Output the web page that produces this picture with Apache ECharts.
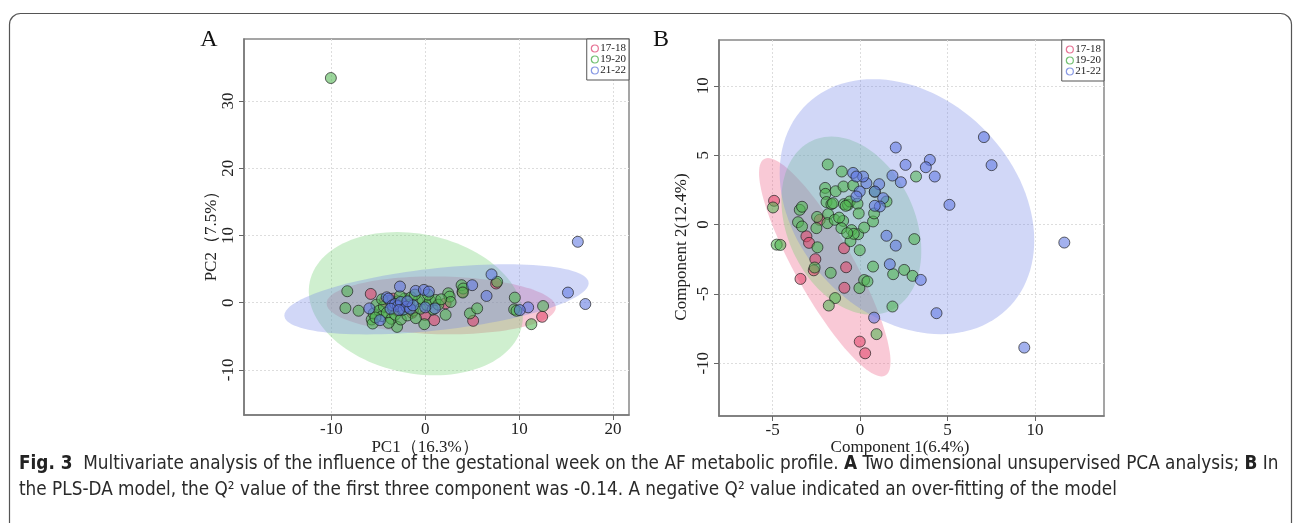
<!DOCTYPE html>
<html><head><meta charset="utf-8">
<script src="https://cdn.jsdelivr.net/npm/echarts@6/dist/echarts.min.js"></script>
<style>html,body{margin:0;padding:0;background:#fff}#c{width:1293px;height:523px}</style>
</head><body><div id="c"></div>
<script>
// ---------- DATA ----------
const groups = ['17-18', '19-20', '21-22'];

// Panel A: PCA scores [PC1, PC2]
const pcaRed = [[-5.8,1.3],[-0.03,-1.83],[0.96,-2.6],[2.17,-0.1],[5.1,-2.7],[7.55,2.85],[12.45,-2.1],[3.97,1.6],[-3.0,-1.2],[-2.0,-0.5],[-4.3,0.2],[-1.4,-1.5],[-3.4,0.6]];
const pcaGreen = [[-10.05,33.4],[-8.3,1.7],[-8.5,-0.8],[-7.1,-1.2],[-5.7,-2.5],[-5.6,-3.1],[-5.5,-1.6],[-3.0,-3.6],[-0.1,-3.2],[2.17,-1.8],[2.45,1.4],[2.6,0.9],[2.7,0.1],[3.87,2.6],[4.05,2.1],[4.0,1.5],[4.76,-1.6],[5.53,-0.85],[7.66,3.1],[9.54,0.75],[9.47,-1.0],[9.72,-1.2],[12.55,-0.5],[11.3,-3.2],
  [-5.2,-0.3],[-4.9,-1.2],[-4.6,-2.0],[-4.4,-0.6],[-4.1,-1.5],[-3.8,0.3],[-3.6,-2.4],[-3.4,-0.9],[-3.2,-1.8],[-2.9,0.2],[-2.6,-2.5],[-2.4,-1.1],[-2.2,0.6],[-1.9,-1.9],[-1.7,-0.3],[-1.5,0.8],[-1.3,-1.2],[-1.0,-2.3],[-0.8,0.2],[-0.5,-0.9],[-0.3,0.5],[0.2,-0.4],[0.5,0.3],[0.8,-1.0],[1.1,0.4],[1.4,-0.3],[1.7,0.5],[-3.9,-3.0],[-5.3,-2.2],[-1.1,1.2],[0.3,1.2],[-2.7,1.0],[-4.6,0.5]];
const pcaBlue = [[16.25,9.05],[15.2,1.5],[17.05,-0.2],[7.06,4.2],[5.0,2.6],[6.53,1.0],[10.96,-0.7],[10.07,-1.1],[-2.69,2.4],[-1.02,1.75],[-0.14,1.9],[0.39,1.65],[1.03,-0.85],[0.0,-0.7],[-4.82,-2.6],[-5.95,-0.85],[-4.1,0.8],
  [-3.9,0.6],[-3.5,-0.4],[-3.2,-0.2],[-2.9,-0.5],[-2.6,0.1],[-2.3,-1.0],[-2.0,-0.6],[-1.6,-0.9],[-1.3,-0.4],[-3.7,-0.9],[-2.8,-1.1],[-1.9,0.2]];

// Panel B: PLS-DA scores [Component 1, Component 2]
const plsRed = [[-4.92,1.71],[-3.07,-0.85],[-2.92,-1.32],[-2.56,-2.5],[-2.65,-3.3],[-3.41,-3.92],[-0.92,-1.71],[-0.8,-3.08],[-0.9,-4.56],[-0.02,-8.44],[0.29,-9.28],[-2.31,0.34]];
const plsGreen = [[-4.98,1.23],[-4.77,-1.45],[-4.56,-1.47],[-3.55,0.17],[-3.32,-0.14],[-3.45,1.06],[-3.32,1.28],[-2.46,0.55],[-2.5,-0.26],[-2.44,-1.64],[-2.6,-3.1],[-1.68,-3.48],[-1.85,4.33],[-2.0,2.64],[-1.98,2.21],[-1.92,1.62],[-1.64,1.47],[-1.83,0.75],[-1.87,0.1],[-1.4,2.4],[-1.45,0.34],[-0.97,0.26],[-1.05,3.82],[-0.95,2.74],[-0.92,1.47],[-0.69,1.42],[-0.59,1.66],[-1.07,-0.26],[-0.49,-0.4],[-0.55,-1.2],[-0.11,-0.7],[-0.15,1.5],[-0.08,0.8],[-0.4,2.81],[-0.02,-1.85],[0.23,-0.22],[0.74,0.22],[0.8,0.8],[0.74,-3.03],[-0.04,-4.58],[0.23,-4.0],[0.42,-4.1],[-1.43,-5.3],[-1.79,-5.84],[0.94,-7.9],[1.89,-3.58],[1.85,-5.91],[2.52,-3.27],[3.0,-3.7],[3.1,-1.05],[3.2,3.46],[1.51,1.66],[0.84,2.36],[-1.55,1.54],[-0.82,1.35],[-0.36,-0.67],[-0.74,-0.62],[-1.2,0.5]];
const plsBlue = [[7.08,6.3],[7.52,4.28],[2.04,5.55],[2.6,4.3],[3.99,4.66],[3.76,4.13],[4.27,3.46],[1.85,3.53],[2.33,3.05],[5.11,1.42],[11.68,-1.3],[9.39,-8.87],[4.37,-6.39],[3.47,-3.99],[1.7,-2.86],[1.51,-0.81],[2.04,-1.52],[0.8,-6.71],[1.09,2.91],[0.84,2.38],[1.32,1.9],[1.13,1.3],[0.84,1.35],[0.36,2.98],[0.17,3.46],[-0.4,3.72],[-0.21,3.46],[-0.02,2.38],[-0.21,2.02]];

// Confidence ellipses: [centerX, centerY, halfWidthX, halfHeightY, xOffsetOfTopPoint]
const pcaEllipseRed = [1.7, -0.4, 12.2, 4.3, -0.85];
const pcaEllipseGreen = [-1.0, -0.15, 11.4, 10.65, -2.0];
const pcaEllipseBlue = [1.2, 0.5, 16.2, 5.22, 7.45];
const plsEllipseRed = [-2.02, -3.08, 3.76, 7.87, -3.25];
const plsEllipseGreen = [-0.5, -0.08, 4.0, 6.42, -1.14];
const plsEllipseBlue = [2.68, 1.29, 7.28, 9.19, -1.93];

const pcaXTicks = [-10, 0, 10, 20];
const pcaYTicks = [-10, 0, 10, 20, 30];
const plsXTicks = [-5, 0, 5, 10];
const plsYTicks = [-10, -5, 0, 5, 10];

// ---------- STYLE ----------
const serif = "'Liberation Serif', 'DejaVu Serif', serif";
const capFont = "'Liberation Sans Narrow', 'DejaVu Sans Condensed', 'Liberation Sans', sans-serif";
const pointColors = ['rgba(226,70,105,0.72)', 'rgba(82,182,82,0.72)', 'rgba(96,120,225,0.72)'];
const fillColors = ['rgba(236,90,130,0.33)', 'rgba(110,205,110,0.33)', 'rgba(115,135,230,0.33)'];
const legendColors = ['#e0507a', '#4fb04f', '#6a80dd'];

function ellipseSeries(params, gridIdx, color) {
  return {
    type: 'custom', xAxisIndex: gridIdx, yAxisIndex: gridIdx, z: 1, silent: true,
    data: [params],
    encode: { x: 0, y: 1 },
    renderItem: function (p, api) {
      const cx = api.value(0), cy = api.value(1), hx = api.value(2), hy = api.value(3), d = api.value(4);
      const e = Math.sqrt(Math.max(hx * hx - d * d, 0));
      const pts = [];
      for (let i = 0; i < 120; i++) {
        const t = i / 120 * Math.PI * 2;
        pts.push(api.coord([cx + d * Math.sin(t) + e * Math.cos(t), cy + hy * Math.sin(t)]));
      }
      return { type: 'polygon', shape: { points: pts }, style: { fill: color, stroke: 'none' } };
    }
  };
}
function scatterSeries(name, data, gridIdx, ci) {
  return {
    type: 'scatter', name: name, xAxisIndex: gridIdx, yAxisIndex: gridIdx, z: 3,
    data: data, symbolSize: 11,
    itemStyle: { color: pointColors[ci], borderColor: 'rgba(30,30,30,0.85)', borderWidth: 1 }
  };
}
function xAxis(gridIdx, min, max, ticks) {
  return {
    type: 'value', gridIndex: gridIdx, min: min, max: max,
    axisLine: { show: true, onZero: false, lineStyle: { color: '#777', width: 1.5 } },
    axisTick: { show: true, length: 5, customValues: ticks, lineStyle: { color: '#666' } },
    axisLabel: { customValues: ticks, margin: 6, color: '#222', fontFamily: serif, fontSize: 17 },
    splitLine: { show: true, lineStyle: { color: '#ddd', type: [2, 2], width: 1 } }
  };
}
function yAxis(gridIdx, min, max, ticks) {
  return {
    type: 'value', gridIndex: gridIdx, min: min, max: max,
    axisLine: { show: true, onZero: false, lineStyle: { color: '#777', width: 1.5 } },
    axisTick: { show: true, length: 5, customValues: ticks, lineStyle: { color: '#666' } },
    axisLabel: { customValues: ticks, margin: 7, rotate: 90, color: '#222', fontFamily: serif, fontSize: 17 },
    splitLine: { show: true, lineStyle: { color: '#ddd', type: [2, 2], width: 1 } }
  };
}
function legend(right, top) {
  return {
    right: right, top: top, orient: 'vertical', itemGap: 0, itemWidth: 7, itemHeight: 7,
    padding: [4, 3, 4, 4], borderColor: '#555', borderWidth: 1, backgroundColor: '#fff',
    selectedMode: false, icon: 'circle',
    textStyle: { fontFamily: serif, fontSize: 11, color: '#222', padding: [0, 0, 0, -3], lineHeight: 11 },
    data: groups.map((g, i) => ({ name: g, icon: 'circle', itemStyle: { color: '#fff', borderColor: legendColors[i], borderWidth: 1.2 } }))
  };
}

const chart = echarts.init(document.getElementById('c'), null, { renderer: 'canvas' });
chart.setOption({
  backgroundColor: '#fff',
  animation: false,
  grid: [
    { left: 244, top: 39, width: 385, height: 376, show: true, borderColor: '#888', borderWidth: 1.5, backgroundColor: 'transparent' },
    { left: 719, top: 40, width: 385, height: 376, show: true, borderColor: '#888', borderWidth: 1.5, backgroundColor: 'transparent' }
  ],
  xAxis: [xAxis(0, -19.3, 21.7, pcaXTicks), xAxis(1, -8.07, 13.95, plsXTicks)],
  yAxis: [yAxis(0, -16.7, 39.2, pcaYTicks), yAxis(1, -13.8, 13.3, plsYTicks)],
  legend: [legend(1293 - 629, 39), legend(1293 - 1104, 40)],
  series: [
    ellipseSeries(pcaEllipseRed, 0, fillColors[0]),
    ellipseSeries(pcaEllipseGreen, 0, fillColors[1]),
    ellipseSeries(pcaEllipseBlue, 0, fillColors[2]),
    ellipseSeries(plsEllipseRed, 1, fillColors[0]),
    ellipseSeries(plsEllipseGreen, 1, fillColors[1]),
    ellipseSeries(plsEllipseBlue, 1, fillColors[2]),
    scatterSeries(groups[0], pcaRed, 0, 0),
    scatterSeries(groups[1], pcaGreen, 0, 1),
    scatterSeries(groups[2], pcaBlue, 0, 2),
    scatterSeries(groups[0], plsRed, 1, 0),
    scatterSeries(groups[1], plsGreen, 1, 1),
    scatterSeries(groups[2], plsBlue, 1, 2)
  ],
  graphic: [
    { type: 'rect', shape: { x: 9.5, y: 13.5, width: 1282, height: 600, r: 11 }, style: { fill: 'none', stroke: '#555', lineWidth: 1.2 }, z: -10 },
    { type: 'text', x: 209, y: 40, style: { text: 'A', font: "24px " + serif, fill: '#111', textAlign: 'center', textVerticalAlign: 'middle' } },
    { type: 'text', x: 661, y: 40, style: { text: 'B', font: "24px " + serif, fill: '#111', textAlign: 'center', textVerticalAlign: 'middle' } },
    { type: 'text', x: 425, y: 448, style: { text: 'PC1（16.3%）', font: "17px " + serif, fill: '#222', textAlign: 'center', textVerticalAlign: 'middle' } },
    { type: 'text', x: 212, y: 232, rotation: Math.PI / 2, style: { text: 'PC2（7.5%）', font: "17px " + serif, fill: '#222', textAlign: 'center', textVerticalAlign: 'middle' } },
    { type: 'text', x: 900, y: 448, style: { text: 'Component 1(6.4%)', font: "17px " + serif, fill: '#222', textAlign: 'center', textVerticalAlign: 'middle' } },
    { type: 'text', x: 682, y: 247, rotation: Math.PI / 2, style: { text: 'Component 2(12.4%)', font: "17px " + serif, fill: '#222', textAlign: 'center', textVerticalAlign: 'middle' } },
    { type: 'text', x: 19, y: 464, style: {
        text: '{b|Fig. 3}  Multivariate analysis of the influence of the gestational week on the AF metabolic profile. {b|A} Two dimensional unsupervised PCA analysis; {b|B} In',
        font: "18.8px " + capFont, fill: '#2a2a2a', textVerticalAlign: 'middle',
        rich: { b: { fontWeight: 'bold', fontFamily: capFont, fontSize: 18.8, fill: '#222' } } } },
    { type: 'text', x: 19, y: 490, style: {
        text: 'the PLS-DA model, the Q² value of the first three component was -0.14. A negative Q² value indicated an over-fitting of the model',
        font: "18.8px " + capFont, fill: '#2a2a2a', textVerticalAlign: 'middle' } }
  ]
});
</script></body></html>
